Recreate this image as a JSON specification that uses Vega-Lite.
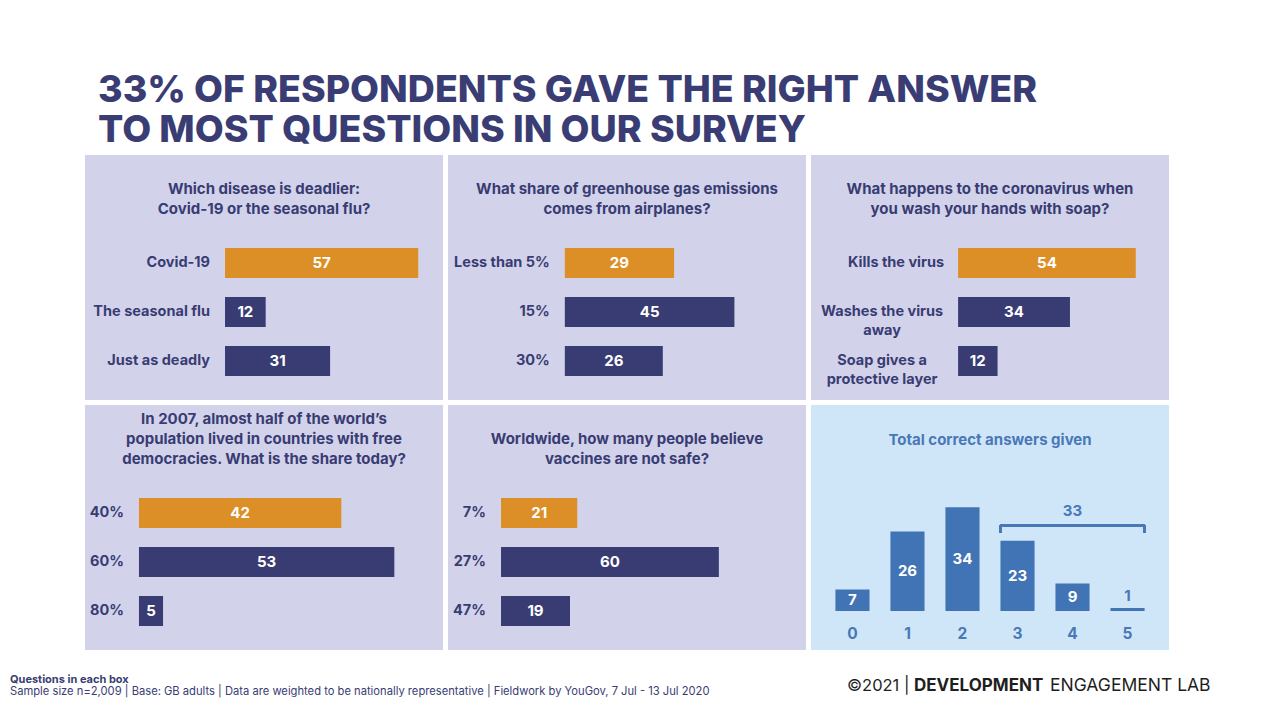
{
  "$schema": "https://vega.github.io/schema/vega-lite/v6.json",
  "background": "white",
  "padding": {"left": 10, "top": 71, "right": 10, "bottom": 0},
  "config": {
    "font": "Inter",
    "view": {"stroke": null},
    "title": {"font": "Inter", "fontSize": 15, "fontWeight": "bold", "color": "#393c73", "lineHeight": 20, "anchor": "middle", "baseline": "bottom"},
    "text": {"font": "Inter"}
  },
  "title": {
    "text": ["33% OF RESPONDENTS GAVE THE RIGHT ANSWER", "TO MOST QUESTIONS IN OUR SURVEY"],
    "anchor": "start", "dx": 88, "fontSize": 37.5, "fontWeight": 800, "lineHeight": 40,
    "color": "#393d74", "offset": -32, "baseline": "bottom"
  },
  "datasets": {
    "answers": [
      {"q": "q1", "answer": "Covid-19", "pct": 57, "correct": "yes"},
      {"q": "q1", "answer": "The seasonal flu", "pct": 12, "correct": "no"},
      {"q": "q1", "answer": "Just as deadly", "pct": 31, "correct": "no"},
      {"q": "q2", "answer": "Less than 5%", "pct": 29, "correct": "yes"},
      {"q": "q2", "answer": "15%", "pct": 45, "correct": "no"},
      {"q": "q2", "answer": "30%", "pct": 26, "correct": "no"},
      {"q": "q3", "answer": "Kills the virus", "pct": 54, "correct": "yes"},
      {"q": "q3", "answer": "Washes the virus\naway", "pct": 34, "correct": "no"},
      {"q": "q3", "answer": "Soap gives a\nprotective layer", "pct": 12, "correct": "no"},
      {"q": "q4", "answer": "40%", "pct": 42, "correct": "yes"},
      {"q": "q4", "answer": "60%", "pct": 53, "correct": "no"},
      {"q": "q4", "answer": "80%", "pct": 5, "correct": "no"},
      {"q": "q5", "answer": "7%", "pct": 21, "correct": "yes"},
      {"q": "q5", "answer": "27%", "pct": 60, "correct": "no"},
      {"q": "q5", "answer": "47%", "pct": 19, "correct": "no"}
    ],
    "totals": [
      {"n": "0", "pct": 7},
      {"n": "1", "pct": 26},
      {"n": "2", "pct": 34},
      {"n": "3", "pct": 23},
      {"n": "4", "pct": 9},
      {"n": "5", "pct": 1}
    ]
  },
  "vconcat": [
    {
      "hconcat": [
        {
          "width": 358, "height": 245,
          "view": {"fill": "#d2d3ea", "stroke": null},
          "title": {"text": ["Which disease is deadlier:", "Covid-19 or the seasonal flu?"], "offset": -62},
          "data": {"name": "answers"},
          "transform": [{"filter": "datum.q == 'q1'"}],
          "encoding": {"y": {"field": "answer", "type": "nominal", "sort": null, "axis": null, "scale": {"range": [93, 221], "paddingInner": 0.388, "paddingOuter": 0}}},
          "layer": [
            {"mark": {"type": "bar"}, "encoding": {"x": {"field": "pct", "type": "quantitative", "scale": {"domain": [-41.3, 64.3], "nice": false, "zero": false}, "axis": null}, "x2": {"datum": 0}, "color": {"field": "correct", "type": "nominal", "scale": {"domain": ["yes", "no"], "range": ["#dd8f27", "#393c73"]}, "legend": null}}},
            {"mark": {"type": "text", "color": "white", "fontWeight": "bold", "fontSize": 15}, "encoding": {"x": {"field": "pct", "type": "quantitative", "stack": "zero", "bandPosition": 0.5}, "text": {"field": "pct"}}},
            {"mark": {"type": "text", "align": "right", "dx": -15, "color": "#393c73", "fontWeight": "bold", "fontSize": 14.5}, "encoding": {"x": {"datum": 0, "type": "quantitative"}, "text": {"field": "answer"}}}
          ]
        },
        {
          "width": 358, "height": 245,
          "view": {"fill": "#d2d3ea", "stroke": null},
          "title": {"text": ["What share of greenhouse gas emissions", "comes from airplanes?"], "offset": -62},
          "data": {"name": "answers"},
          "transform": [{"filter": "datum.q == 'q2'"}],
          "encoding": {"y": {"field": "answer", "type": "nominal", "sort": null, "axis": null, "scale": {"range": [93, 221], "paddingInner": 0.388, "paddingOuter": 0}}},
          "layer": [
            {"mark": {"type": "bar"}, "encoding": {"x": {"field": "pct", "type": "quantitative", "scale": {"domain": [-31.0, 64.0], "nice": false, "zero": false}, "axis": null}, "x2": {"datum": 0}, "color": {"field": "correct", "type": "nominal", "scale": {"domain": ["yes", "no"], "range": ["#dd8f27", "#393c73"]}, "legend": null}}},
            {"mark": {"type": "text", "color": "white", "fontWeight": "bold", "fontSize": 15}, "encoding": {"x": {"field": "pct", "type": "quantitative", "stack": "zero", "bandPosition": 0.5}, "text": {"field": "pct"}}},
            {"mark": {"type": "text", "align": "right", "dx": -15, "color": "#393c73", "fontWeight": "bold", "fontSize": 14.5}, "encoding": {"x": {"datum": 0, "type": "quantitative"}, "text": {"field": "answer"}}}
          ]
        },
        {
          "width": 358, "height": 245,
          "view": {"fill": "#d2d3ea", "stroke": null},
          "title": {"text": ["What happens to the coronavirus when", "you wash your hands with soap?"], "offset": -62},
          "data": {"name": "answers"},
          "transform": [{"filter": "datum.q == 'q3'"}],
          "encoding": {"y": {"field": "answer", "type": "nominal", "sort": null, "axis": null, "scale": {"range": [93, 221], "paddingInner": 0.388, "paddingOuter": 0}}},
          "layer": [
            {"mark": {"type": "bar"}, "encoding": {"x": {"field": "pct", "type": "quantitative", "scale": {"domain": [-44.7, 64.1], "nice": false, "zero": false}, "axis": null}, "x2": {"datum": 0}, "color": {"field": "correct", "type": "nominal", "scale": {"domain": ["yes", "no"], "range": ["#dd8f27", "#393c73"]}, "legend": null}}},
            {"mark": {"type": "text", "color": "white", "fontWeight": "bold", "fontSize": 15}, "encoding": {"x": {"field": "pct", "type": "quantitative", "stack": "zero", "bandPosition": 0.5}, "text": {"field": "pct"}}},
            {"transform": [{"filter": "indexof(datum.answer, '\\n') < 0"}], "mark": {"type": "text", "align": "right", "dx": -14, "color": "#393c73", "fontWeight": "bold", "fontSize": 14.5}, "encoding": {"x": {"datum": 0, "type": "quantitative"}, "text": {"field": "answer"}}},
            {"transform": [{"filter": "indexof(datum.answer, '\\n') >= 0"}], "mark": {"type": "text", "align": "center", "dx": -76, "color": "#393c73", "fontWeight": "bold", "fontSize": 14.5, "lineBreak": "\n", "lineHeight": 19}, "encoding": {"x": {"datum": 0, "type": "quantitative"}, "text": {"field": "answer"}}}
          ]
        }
      ],
      "spacing": 5
    },
    {
      "hconcat": [
        {
          "width": 358, "height": 245,
          "view": {"fill": "#d2d3ea", "stroke": null},
          "title": {"text": ["In 2007, almost half of the world’s", "population lived in countries with free", "democracies. What is the share today?"], "offset": -62},
          "data": {"name": "answers"},
          "transform": [{"filter": "datum.q == 'q4'"}],
          "encoding": {"y": {"field": "answer", "type": "nominal", "sort": null, "axis": null, "scale": {"range": [93, 221], "paddingInner": 0.388, "paddingOuter": 0}}},
          "layer": [
            {"mark": {"type": "bar"}, "encoding": {"x": {"field": "pct", "type": "quantitative", "scale": {"domain": [-11.2, 63.1], "nice": false, "zero": false}, "axis": null}, "x2": {"datum": 0}, "color": {"field": "correct", "type": "nominal", "scale": {"domain": ["yes", "no"], "range": ["#dd8f27", "#393c73"]}, "legend": null}}},
            {"mark": {"type": "text", "color": "white", "fontWeight": "bold", "fontSize": 15}, "encoding": {"x": {"field": "pct", "type": "quantitative", "stack": "zero", "bandPosition": 0.5}, "text": {"field": "pct"}}},
            {"mark": {"type": "text", "align": "right", "dx": -15, "color": "#393c73", "fontWeight": "bold", "fontSize": 14.5}, "encoding": {"x": {"datum": 0, "type": "quantitative"}, "text": {"field": "answer"}}}
          ]
        },
        {
          "width": 358, "height": 245,
          "view": {"fill": "#d2d3ea", "stroke": null},
          "title": {"text": ["Worldwide, how many people believe", "vaccines are not safe?"], "offset": -62},
          "data": {"name": "answers"},
          "transform": [{"filter": "datum.q == 'q5'"}],
          "encoding": {"y": {"field": "answer", "type": "nominal", "sort": null, "axis": null, "scale": {"range": [93, 221], "paddingInner": 0.388, "paddingOuter": 0}}},
          "layer": [
            {"mark": {"type": "bar"}, "encoding": {"x": {"field": "pct", "type": "quantitative", "scale": {"domain": [-14.6, 84.0], "nice": false, "zero": false}, "axis": null}, "x2": {"datum": 0}, "color": {"field": "correct", "type": "nominal", "scale": {"domain": ["yes", "no"], "range": ["#dd8f27", "#393c73"]}, "legend": null}}},
            {"mark": {"type": "text", "color": "white", "fontWeight": "bold", "fontSize": 15}, "encoding": {"x": {"field": "pct", "type": "quantitative", "stack": "zero", "bandPosition": 0.5}, "text": {"field": "pct"}}},
            {"mark": {"type": "text", "align": "right", "dx": -15, "color": "#393c73", "fontWeight": "bold", "fontSize": 14.5}, "encoding": {"x": {"datum": 0, "type": "quantitative"}, "text": {"field": "answer"}}}
          ]
        },
        {
          "width": 358, "height": 245,
          "view": {"fill": "#cfe6f9", "stroke": null},
          "title": {"text": "Total correct answers given", "offset": -43, "color": "#4a78b6"},
          "data": {"name": "totals"},
          "encoding": {"x": {"field": "n", "type": "nominal", "sort": null, "scale": {"paddingInner": 0.38, "paddingOuter": 0.444}, "axis": {"orient": "bottom", "domain": false, "ticks": false, "tickSize": 0, "labelPadding": 0, "offset": -17, "labelBaseline": "middle", "labelAngle": 0, "labelFont": "Inter", "labelFontSize": 15.5, "labelFontWeight": "bold", "labelColor": "#4a78b6", "title": null, "grid": false}}},
          "layer": [
            {"mark": {"type": "bar", "color": "#4174b4"}, "encoding": {"y": {"field": "pct", "type": "quantitative", "scale": {"domain": [-12.8, 67.5], "nice": false, "zero": false}, "axis": null}, "y2": {"datum": 0}}},
            {"transform": [{"filter": "datum.pct >= 3"}], "mark": {"type": "text", "color": "white", "fontWeight": "bold", "fontSize": 15}, "encoding": {"y": {"field": "pct", "type": "quantitative", "stack": "zero", "bandPosition": 0.5}, "text": {"field": "pct"}}},
            {"transform": [{"filter": "datum.pct < 3"}], "mark": {"type": "text", "color": "#4a78b6", "fontWeight": "bold", "fontSize": 15, "baseline": "bottom", "dy": -4}, "encoding": {"y": {"field": "pct", "type": "quantitative"}, "text": {"field": "pct"}}},
            {"mark": {"type": "rule", "color": "#4a78b6", "strokeWidth": 2.5}, "encoding": {"x": {"datum": "3", "type": "nominal", "bandPosition": 0}, "x2": {"datum": "5", "bandPosition": 1}, "y": {"datum": 28, "type": "quantitative"}}},
            {"mark": {"type": "rule", "color": "#4a78b6", "strokeWidth": 2.5}, "encoding": {"x": {"datum": "3", "type": "nominal", "bandPosition": 0}, "y": {"datum": 25.6, "type": "quantitative"}, "y2": {"datum": 28}}},
            {"mark": {"type": "rule", "color": "#4a78b6", "strokeWidth": 2.5}, "encoding": {"x": {"datum": "5", "type": "nominal", "bandPosition": 1}, "y": {"datum": 25.6, "type": "quantitative"}, "y2": {"datum": 28}}},
            {"transform": [{"filter": "datum.n >= 3"}, {"aggregate": [{"op": "sum", "field": "pct", "as": "total"}]}], "mark": {"type": "text", "color": "#4a78b6", "fontWeight": "bold", "fontSize": 15, "dy": -15}, "encoding": {"x": {"datum": "4", "type": "nominal"}, "y": {"datum": 28, "type": "quantitative"}, "text": {"field": "total"}}}
          ]
        }
      ],
      "spacing": 5
    },
    {
      "width": 1084, "height": 62,
      "layer": [
        {"data": {"values": [{"t": "Questions in each box"}]}, "mark": {"type": "text", "align": "left", "baseline": "middle", "dx": -75, "dy": -6, "fontSize": 11, "fontWeight": "bold", "color": "#393d74"}, "encoding": {"x": {"datum": 0, "type": "quantitative", "scale": {"domain": [0, 1]}, "axis": null}, "y": {"datum": 0.5, "type": "quantitative", "scale": {"domain": [0, 1]}, "axis": null}, "text": {"field": "t"}}},
        {"data": {"values": [{"t": "Sample size n=2,009 | Base: GB adults | Data are weighted to be nationally representative | Fieldwork by YouGov, 7 Jul - 13 Jul 2020"}]}, "mark": {"type": "text", "align": "left", "baseline": "middle", "dx": -75, "dy": 6, "fontSize": 11.2, "color": "#393d74"}, "encoding": {"x": {"datum": 0, "type": "quantitative"}, "y": {"datum": 0.5, "type": "quantitative"}, "text": {"field": "t"}}},
        {"data": {"values": [{"t": "©2021 |"}]}, "mark": {"type": "text", "align": "left", "baseline": "middle", "dx": -322, "fontSize": 16.5, "color": "#1e1e1e"}, "encoding": {"x": {"datum": 1, "type": "quantitative"}, "y": {"datum": 0.5, "type": "quantitative"}, "text": {"field": "t"}}},
        {"data": {"values": [{"t": "DEVELOPMENT"}]}, "mark": {"type": "text", "align": "left", "baseline": "middle", "dx": -255, "fontSize": 17, "fontWeight": "bold", "color": "#1e1e1e"}, "encoding": {"x": {"datum": 1, "type": "quantitative"}, "y": {"datum": 0.5, "type": "quantitative"}, "text": {"field": "t"}}},
        {"data": {"values": [{"t": "ENGAGEMENT LAB"}]}, "mark": {"type": "text", "align": "left", "baseline": "middle", "dx": -119, "fontSize": 17.5, "color": "#1e1e1e"}, "encoding": {"x": {"datum": 1, "type": "quantitative"}, "y": {"datum": 0.5, "type": "quantitative"}, "text": {"field": "t"}}}
      ]
    }
  ],
  "spacing": 5
}
